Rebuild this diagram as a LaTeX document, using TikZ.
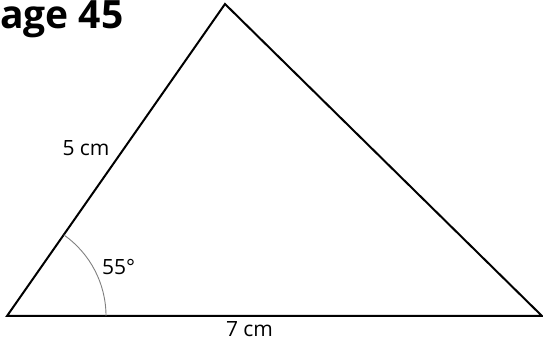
\documentclass[tikz,border=0pt]{standalone}
\usepackage{fontspec}
\setmainfont{Open Sans}
\usetikzlibrary{calc}

\begin{document}
\begin{tikzpicture}[x=1pt,y=1pt,every node/.style={font=\fontsize{21}{24}\selectfont,inner sep=0pt}]
    \useasboundingbox (0,0) rectangle (543,347);
    \coordinate (A) at (7,31);
    \coordinate (B) at (225,343);
    \coordinate (C) at (542,31);
    \draw[line width=2pt,line join=miter] (A) -- (B) -- (C) -- cycle;
    \draw[gray,line width=0.9pt] ($(A)+(99,0)$) arc[start angle=0,end angle=55,radius=99];
    \node[anchor=base west,font=\fontsize{39}{42}\selectfont\bfseries] (title) at (0,318) {age 45};
    \node[anchor=base] (side) at (86,191) {5 cm};
    \node[anchor=base west] (angle) at (102,72) {55°};
    \node[anchor=base] (base) at (249.5,10) {7 cm};
\end{tikzpicture}
\end{document}
